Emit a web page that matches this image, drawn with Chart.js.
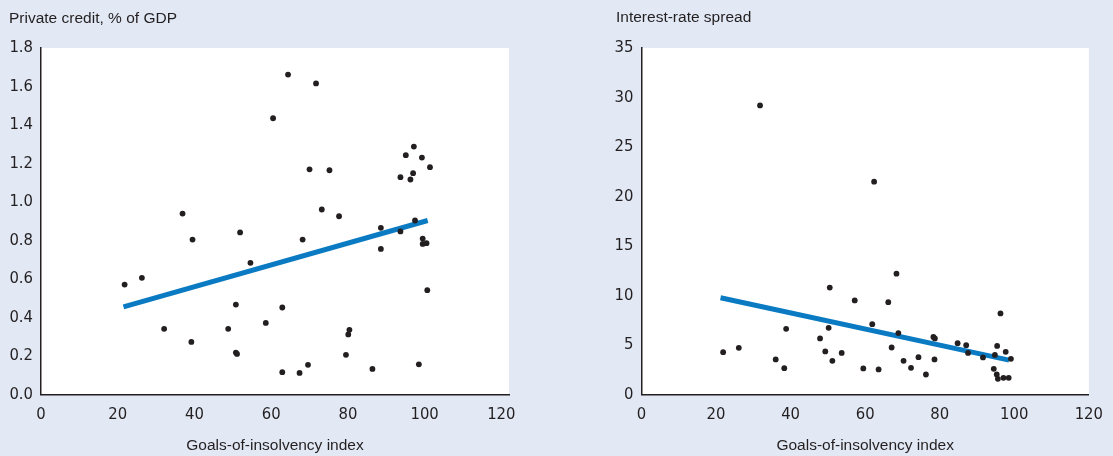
<!DOCTYPE html>
<html>
<head>
<meta charset="utf-8">
<script src="https://cdn.jsdelivr.net/npm/chart.js@4.4.1/dist/chart.umd.min.js"></script>
<style>
  html, body { margin: 0; padding: 0; background: #e2e9f5; }
  body { width: 1113px; height: 456px; position: relative; overflow: hidden; }
  canvas { position: absolute; top: 0; }
  #c1 { left: 0; }
  #c2 { left: 560px; }
</style>
</head>
<body>
<canvas id="c1" width="560" height="456"></canvas>
<canvas id="c2" width="553" height="456"></canvas>
<script>
// ---- Data ----
const xTicks = [0, 20, 40, 60, 80, 100, 120];
const creditTicks = [0, 0.2, 0.4, 0.6, 0.8, 1.0, 1.2, 1.4, 1.6, 1.8];
const spreadTicks = [0, 5, 10, 15, 20, 25, 30, 35];

const creditX = [64.4, 71.7, 60.5, 97.2, 95.1, 99.3, 101.4, 70.0, 75.2, 93.7, 97.0, 96.3,
  36.9, 73.2, 77.7, 97.5, 88.6, 51.9, 93.7, 39.5, 68.2, 99.5, 99.5, 100.5, 88.6, 54.6,
  26.3, 21.8, 100.7, 50.8, 62.9, 58.6, 32.1, 48.8, 80.4, 80.1, 39.2, 50.8, 51.1, 79.5,
  69.6, 98.5, 62.9, 67.4, 86.4];
const creditY = [1.662, 1.616, 1.435, 1.288, 1.243, 1.231, 1.181, 1.170, 1.165, 1.129, 1.150, 1.117,
  0.940, 0.961, 0.926, 0.904, 0.866, 0.842, 0.847, 0.805, 0.805, 0.810, 0.782, 0.786, 0.756, 0.684,
  0.606, 0.571, 0.542, 0.467, 0.452, 0.372, 0.341, 0.341, 0.336, 0.312, 0.273, 0.218, 0.211, 0.206,
  0.154, 0.157, 0.116, 0.112, 0.133];
const creditTrendX = [21.5, 100.8];
const creditTrendY = [0.455, 0.904];

const spreadX = [31.8, 62.4, 68.4, 50.5, 57.2, 66.2, 96.3, 61.9, 38.8, 50.2, 68.9, 47.9, 78.3, 78.7,
  84.8, 87.1, 95.4, 26.1, 67.1, 21.9, 49.3, 53.7, 87.6, 97.7, 94.8, 74.3, 91.6, 36.0, 78.6, 99.1,
  51.2, 70.3, 38.3, 59.5, 63.6, 72.3, 94.5, 76.3, 95.3, 95.6, 97.1, 98.5];
const spreadY = [29.2, 21.5, 12.2, 10.8, 9.5, 9.33, 8.19, 7.1, 6.63, 6.73, 6.2, 5.66, 5.82, 5.66,
  5.18, 4.98, 4.91, 4.71, 4.75, 4.28, 4.35, 4.2, 4.2, 4.31, 4.0, 3.77, 3.74, 3.54, 3.54, 3.6,
  3.4, 3.4, 2.66, 2.63, 2.53, 2.69, 2.59, 2.02, 2.02, 1.58, 1.68, 1.68];
const spreadTrendX = [21.2, 98.6];
const spreadTrendY = [9.77, 3.47];

const leftTitle = 'Private credit, % of GDP';
const rightTitle = 'Interest-rate spread';
const xTitle = 'Goals-of-insolvency index';

// ---- Styling ----
const INK = '#231f20';
const BLUE = '#0a7bc2';
const TICK_FONT = { family: '"Liberation Sans Narrow", "DejaVu Sans Condensed", "Liberation Sans", sans-serif', size: 16.5 };
const TEXT_FONT = '15.5px "Liberation Sans", Arial, sans-serif';

const zip = (xs, ys) => xs.map((x, i) => ({ x, y: ys[i] }));

const panelDecor = {
  id: 'panelDecor',
  beforeDraw(chart, args, opts) {
    const { ctx, chartArea: a } = chart;
    ctx.save();
    ctx.fillStyle = '#ffffff';
    ctx.fillRect(a.left, a.top, a.right - a.left, a.bottom - a.top);
    ctx.restore();
  },
  afterDraw(chart, args, opts) {
    const { ctx, chartArea: a } = chart;
    ctx.save();
    ctx.fillStyle = INK;
    ctx.font = TEXT_FONT;
    ctx.textBaseline = 'alphabetic';
    ctx.textAlign = 'left';
    ctx.fillText(opts.title, opts.titleX, opts.titleY);
    ctx.textAlign = 'center';
    ctx.fillText(opts.xTitle, (a.left + a.right) / 2, opts.xTitleY);
    ctx.restore();
  }
};

function makeChart(id, cfg) {
  return new Chart(document.getElementById(id), {
    type: 'scatter',
    data: {
      datasets: [
        {
          data: zip(cfg.px, cfg.py),
          backgroundColor: INK,
          borderWidth: 0,
          pointRadius: 2.9,
          pointHoverRadius: 2.9,
          order: 0
        },
        {
          type: 'line',
          data: zip(cfg.tx, cfg.ty),
          borderColor: BLUE,
          borderWidth: 5,
          borderCapStyle: 'butt',
          pointRadius: 0,
          fill: false,
          order: 1
        }
      ]
    },
    options: {
      responsive: false,
      animation: false,
      devicePixelRatio: 1,
      events: [],
      layout: { padding: { left: 0, top: 48, right: cfg.padRight, bottom: 0 } },
      plugins: {
        legend: { display: false },
        tooltip: { enabled: false },
        panelDecor: { title: cfg.title, titleX: cfg.titleX, titleY: cfg.titleY, xTitle: xTitle, xTitleY: 450 }
      },
      scales: {
        x: {
          type: 'linear',
          min: 0,
          max: cfg.xMax,
          grid: { display: false, drawTicks: false },
          border: { display: true, color: INK, width: 1.5 },
          ticks: { color: INK, font: TICK_FONT, padding: 10, maxRotation: 0 },
          afterBuildTicks: (s) => { s.ticks = xTicks.map(v => ({ value: v })); },
          afterFit: (s) => { s.height = 456 - 394.5; }
        },
        y: {
          type: 'linear',
          min: cfg.yTicks[0],
          max: cfg.yTicks[cfg.yTicks.length - 1],
          grid: { display: false, drawTicks: false },
          border: { display: true, color: INK, width: 1.5 },
          ticks: {
            color: INK, font: TICK_FONT, padding: 8,
            callback: (v) => cfg.fmt(v)
          },
          afterBuildTicks: (s) => { s.ticks = cfg.yTicks.map(v => ({ value: v })); },
          afterFit: (s) => { s.width = cfg.yWidth; }
        }
      }
    },
    plugins: [panelDecor]
  });
}

makeChart('c1', {
  px: creditX, py: creditY, tx: creditTrendX, ty: creditTrendY,
  yTicks: creditTicks, fmt: (v) => Number(v).toFixed(1),
  xMax: 122, yWidth: 41, padRight: 51,
  title: leftTitle, titleX: 9, titleY: 23
});

makeChart('c2', {
  px: spreadX, py: spreadY, tx: spreadTrendX, ty: spreadTrendY,
  yTicks: spreadTicks, fmt: (v) => String(Math.round(v)),
  xMax: 120, yWidth: 81.5, padRight: 14.7,
  title: rightTitle, titleX: 56, titleY: 22
});
</script>
</body>
</html>
